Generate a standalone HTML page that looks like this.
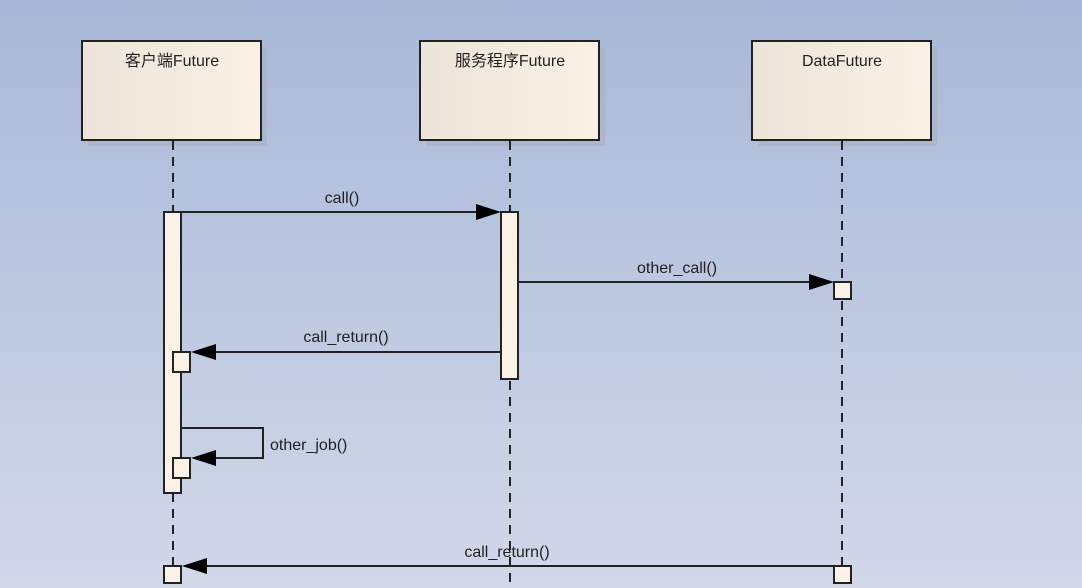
<!DOCTYPE html>
<html><head><meta charset="utf-8"><style>
html,body{margin:0;padding:0}
body{width:1082px;height:588px;overflow:hidden;background:linear-gradient(#a8b8d8,#d2d8e8);}
svg{display:block}
text{font-family:"Liberation Sans","Noto Sans CJK SC",sans-serif;font-size:16px;fill:#222}
</style></head><body>
<svg width="1082" height="588" viewBox="0 0 1082 588">
<defs>
<linearGradient id="g" x1="0" x2="1"><stop offset="0" stop-color="#ece4da"/><stop offset="1" stop-color="#fbf1e6"/></linearGradient>
</defs>
<g fill="#aab0c0" opacity="0.6">
<rect x="88" y="47" width="179" height="99"/><rect x="426" y="47" width="179" height="99"/><rect x="758" y="47" width="179" height="99"/>
</g>
<g stroke="#222" stroke-width="2" fill="url(#g)">
<rect x="82" y="41" width="179" height="99"/><rect x="420" y="41" width="179" height="99"/><rect x="752" y="41" width="179" height="99"/>
</g>
<text x="172" y="66" text-anchor="middle">客户端Future</text>
<text x="510" y="66" text-anchor="middle">服务程序Future</text>
<text x="842" y="66" text-anchor="middle">DataFuture</text>
<g stroke="#222" stroke-width="2" stroke-dasharray="9,7">
<line x1="173" y1="141" x2="173" y2="588"/><line x1="510" y1="141" x2="510" y2="588"/><line x1="842" y1="141" x2="842" y2="588"/>
</g>
<g stroke="#222" stroke-width="2" fill="#fbf1e6">
<rect x="164" y="212" width="17" height="281"/>
<rect x="501" y="212" width="17" height="167"/>
<rect x="173" y="352" width="17" height="20"/>
<rect x="173" y="458" width="17" height="20"/>
<rect x="834" y="282" width="17" height="17"/>
<rect x="164" y="566" width="17" height="17"/>
<rect x="834" y="566" width="17" height="17"/>
</g>
<g stroke="#222" stroke-width="2" fill="none">
<line x1="181" y1="212" x2="480" y2="212"/>
<line x1="518" y1="282" x2="812" y2="282"/>
<line x1="501" y1="352" x2="212" y2="352"/>
<polyline points="181,428 263,428 263,458 212,458"/>
<line x1="834" y1="566" x2="203" y2="566"/>
</g>
<g fill="#000">
<polygon points="501,212 476,204 476,220"/>
<polygon points="834,282 809,274 809,290"/>
<polygon points="191,352 216,344 216,360"/>
<polygon points="191,458 216,450 216,466"/>
<polygon points="182,566 207,558 207,574"/>
</g>
<text x="342" y="203" text-anchor="middle">call()</text>
<text x="677" y="273" text-anchor="middle">other_call()</text>
<text x="346" y="342" text-anchor="middle">call_return()</text>
<text x="270" y="450">other_job()</text>
<text x="507" y="557" text-anchor="middle">call_return()</text>
</svg>
</body></html>
